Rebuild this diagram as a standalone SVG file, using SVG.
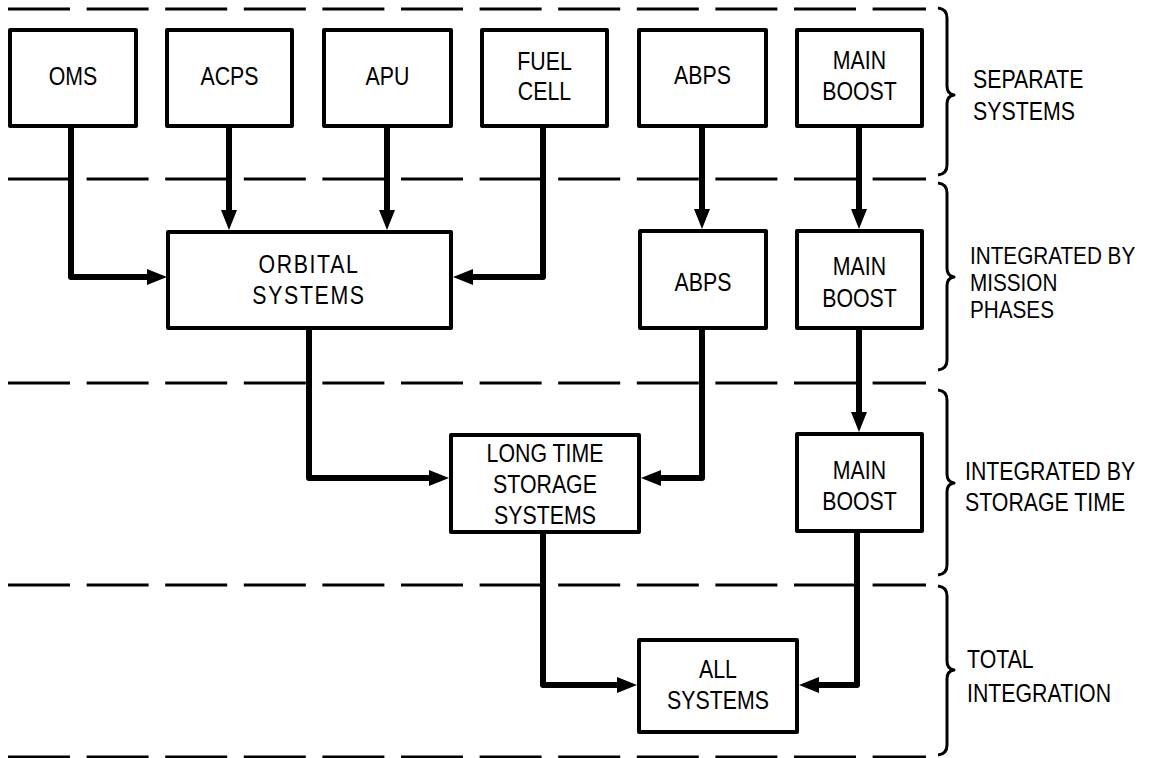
<svg xmlns="http://www.w3.org/2000/svg" width="1156" height="758" viewBox="0 0 1156 758">
<style>
.box{fill:#fff;stroke:#000;stroke-width:4;stroke-linejoin:round}
.conn{fill:none;stroke:#000;stroke-width:6;stroke-linejoin:round}
.dash{fill:none;stroke:#000;stroke-width:3;stroke-dasharray:62 16.6}
.brace{fill:none;stroke:#000;stroke-width:3;stroke-linejoin:round}
text{font-family:"Liberation Sans",Arial,sans-serif;font-size:26px;fill:#000}
.c{text-anchor:middle}
.s{font-size:23px}
</style>
<defs>
<marker id="ah" viewBox="0 0 20 16" markerWidth="20" markerHeight="16" markerUnits="userSpaceOnUse" refX="0" refY="8" orient="auto">
<path d="M0,0 L20,8 L0,16 Z" fill="#000"/>
</marker>
</defs>
<rect width="1156" height="758" fill="#fff"/>
<g id="dividers">
<line class="dash" x1="8" y1="9" x2="926" y2="9"/>
<line class="dash" x1="8" y1="179" x2="926" y2="179"/>
<line class="dash" x1="8" y1="383" x2="926" y2="383"/>
<line class="dash" x1="8" y1="585" x2="926" y2="585"/>
<line class="dash" x1="8" y1="757" x2="926" y2="757"/>
</g>
<g id="braces">
<path class="brace" d="M938,8 Q947,9 947,18 V86 Q947,94 954,95 Q947,96 947,104 V165 Q947,174 938,175"/>
<path class="brace" d="M938,183 Q947,184 947,193 V268 Q947,276 954,277 Q947,278 947,286 V360 Q947,369 938,370"/>
<path class="brace" d="M938,390 Q947,391 947,400 V474 Q947,482 954,483 Q947,484 947,492 V565 Q947,574 938,575"/>
<path class="brace" d="M938,586 Q947,587 947,596 V661 Q947,669 954,670 Q947,671 947,679 V745 Q947,754 938,755"/>
</g>
<g id="connectors">
<path class="conn" d="M71,126 V277 H147" marker-end="url(#ah)"/>
<path class="conn" d="M229,126 V210" marker-end="url(#ah)"/>
<path class="conn" d="M387,126 V210" marker-end="url(#ah)"/>
<path class="conn" d="M543,126 V277 H473" marker-end="url(#ah)"/>
<path class="conn" d="M702,126 V209" marker-end="url(#ah)"/>
<path class="conn" d="M859,126 V209" marker-end="url(#ah)"/>
<path class="conn" d="M309,328 V478 H429" marker-end="url(#ah)"/>
<path class="conn" d="M702,328 V478 H661" marker-end="url(#ah)"/>
<path class="conn" d="M859,328 V412" marker-end="url(#ah)"/>
<path class="conn" d="M543,532 V685 H617" marker-end="url(#ah)"/>
<path class="conn" d="M857,531 V685 H819" marker-end="url(#ah)"/>
</g>
<g id="oms"><rect class="box" x="10" y="30" width="126" height="96"/>
<text class="c" transform="translate(73,85) scale(0.82,1)">OMS</text></g>
<g id="acps"><rect class="box" x="167" y="30" width="125" height="96"/>
<text class="c" transform="translate(229.5,85) scale(0.82,1)">ACPS</text></g>
<g id="apu"><rect class="box" x="324" y="30" width="127" height="96"/>
<text class="c" transform="translate(387.5,85) scale(0.82,1)">APU</text></g>
<g id="fuelcell"><rect class="box" x="482" y="30" width="125" height="96"/>
<text class="c" transform="translate(544.5,70) scale(0.82,1)">FUEL</text>
<text class="c" transform="translate(544.5,100) scale(0.82,1)">CELL</text></g>
<g id="abps1"><rect class="box" x="639" y="30" width="127" height="96"/>
<text class="c" transform="translate(702.5,84) scale(0.82,1)">ABPS</text></g>
<g id="mainboost1"><rect class="box" x="797" y="30" width="125" height="96"/>
<text class="c" transform="translate(859.5,69) scale(0.82,1)">MAIN</text>
<text class="c" transform="translate(859.5,100) scale(0.82,1)">BOOST</text></g>
<g id="orbital"><rect class="box" x="168" y="232" width="283" height="96"/>
<text class="c" transform="translate(309,273) scale(0.82,1)" letter-spacing="2">ORBITAL</text>
<text class="c" transform="translate(309,304) scale(0.82,1)" letter-spacing="2">SYSTEMS</text></g>
<g id="abps2"><rect class="box" x="640" y="231" width="126" height="97"/>
<text class="c" transform="translate(703,291) scale(0.82,1)">ABPS</text></g>
<g id="mainboost2"><rect class="box" x="797" y="231" width="125" height="97"/>
<text class="c" transform="translate(859.5,275) scale(0.82,1)">MAIN</text>
<text class="c" transform="translate(859.5,307) scale(0.82,1)">BOOST</text></g>
<g id="longtime"><rect class="box" x="451" y="435" width="188" height="97"/>
<text class="c" transform="translate(545,462) scale(0.82,1)">LONG TIME</text>
<text class="c" transform="translate(545,493) scale(0.82,1)">STORAGE</text>
<text class="c" transform="translate(545,524) scale(0.82,1)">SYSTEMS</text></g>
<g id="mainboost3"><rect class="box" x="797" y="434" width="125" height="97"/>
<text class="c" transform="translate(859.5,479) scale(0.82,1)">MAIN</text>
<text class="c" transform="translate(859.5,510) scale(0.82,1)">BOOST</text></g>
<g id="allsystems"><rect class="box" x="639" y="640" width="158" height="92"/>
<text class="c" transform="translate(718,678) scale(0.82,1)">ALL</text>
<text class="c" transform="translate(718,709) scale(0.82,1)">SYSTEMS</text></g>
<g id="labels">
<text transform="translate(973,88) scale(0.82,1)">SEPARATE</text>
<text transform="translate(973,120) scale(0.82,1)">SYSTEMS</text>
<text class="s" transform="translate(970,264) scale(0.9,1)">INTEGRATED BY</text>
<text class="s" transform="translate(970,291) scale(0.9,1)">MISSION</text>
<text class="s" transform="translate(970,318) scale(0.9,1)">PHASES</text>
<text transform="translate(965,480) scale(0.82,1)">INTEGRATED BY</text>
<text transform="translate(965,511) scale(0.82,1)">STORAGE TIME</text>
<text transform="translate(967,668) scale(0.82,1)">TOTAL</text>
<text transform="translate(967,702) scale(0.82,1)">INTEGRATION</text>
</g>
</svg>
